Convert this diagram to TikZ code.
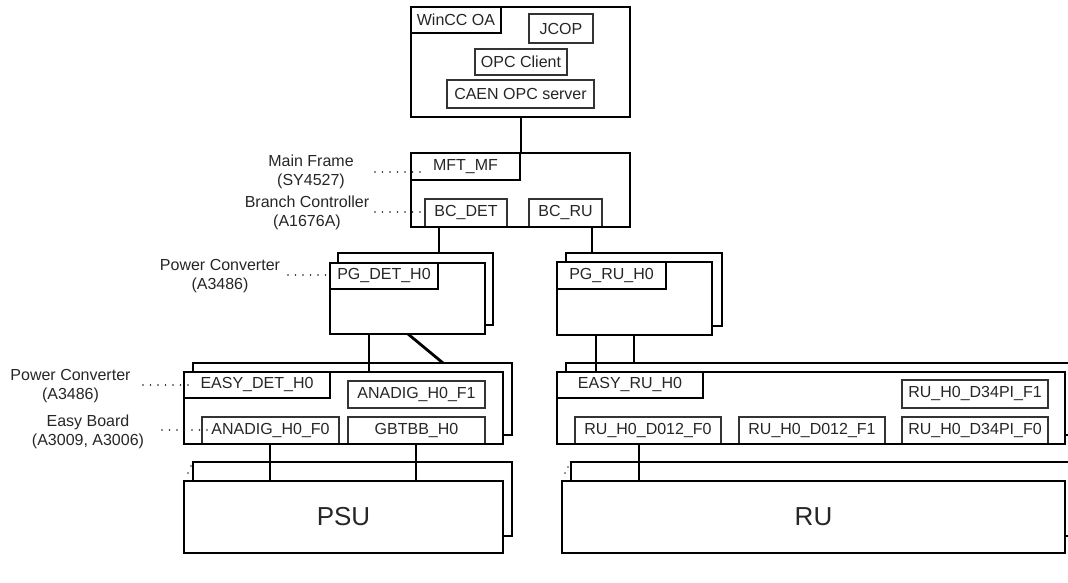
\documentclass[tikz,border=0pt]{standalone}
\usepackage{fontspec}
\setmainfont{Liberation Sans}
\newcommand\myfs{\fontsize{16}{19}\selectfont}
\newcommand\mybig{\fontsize{26}{30}\selectfont}
\tikzset{
  thk/.style={draw=black, line width=2.8pt, inner sep=0pt, outer sep=0pt, fill=white, font=\myfs, text=black!85, anchor=north west},
  thn/.style={draw=black!80, line width=1.7pt, inner sep=0pt, outer sep=0pt, font=\myfs, text=black!85, anchor=north west},
  lbl/.style={font=\myfs, text=black!85, align=center, inner sep=0pt},
  dotl/.style={line width=1.8pt, dash pattern=on 0pt off 7.5pt, line cap=round, black!90},
  conn/.style={line width=2.8pt, black},
  edge/.style={line width=2.8pt, black, line cap=rect},
}
\begin{document}
\begin{tikzpicture}[x=1pt,y=-1pt]
\useasboundingbox (0,0) rectangle (1068,583);

% WinCC
\node[thk, minimum width=219pt, minimum height=110pt] (wincc) at (411,7) {};
\node[thk, minimum width=90pt, minimum height=26pt] (winccoa) at (411,7) {WinCC OA};
\node[thn, minimum width=64pt, minimum height=29pt] (jcop) at (529,14) {JCOP};
\node[thn, minimum width=92pt, minimum height=26pt] (opcc) at (475,49) {OPC Client};
\node[thn, minimum width=147pt, minimum height=28pt] (caen) at (447,80) {CAEN OPC server};

% Main frame
\node[thk, minimum width=219pt, minimum height=74pt] (mf) at (411,153) {};
\node[thk, minimum width=109pt, minimum height=27pt] (mfl) at (411,153) {MFT\_MF};
\node[thn, minimum width=82pt, minimum height=28pt] (bcdet) at (425,199) {BC\_DET};
\node[thn, minimum width=73pt, minimum height=28pt] (bcru) at (529,199) {BC\_RU};
\draw[edge] (mf.south west) -- (mf.south east);

% PG DET
\node[thk, minimum width=155pt, minimum height=72pt] (pgdetb) at (338,253) {};
\node[thk, minimum width=155pt, minimum height=71pt] (pgdet) at (330,263) {};
\node[thk, minimum width=108pt, minimum height=26pt] (pgdetl) at (330,263) {PG\_DET\_H0};

% PG RU
\node[thk, minimum width=156pt, minimum height=73pt] (pgrub) at (566,253) {};
\node[thk, minimum width=155pt, minimum height=73pt] (pgru) at (557,262) {};
\node[thk, minimum width=109pt, minimum height=27pt] (pgrul) at (557,262) {PG\_RU\_H0};

% EASY DET
\node[thk, minimum width=319pt, minimum height=72pt] (easydetb) at (193,363) {};
\node[thk, minimum width=319pt, minimum height=72pt] (easydet) at (184,372) {};
\node[thk, minimum width=146pt, minimum height=26pt] (easydetl) at (184,372) {EASY\_DET\_H0};
\node[thn, minimum width=137pt, minimum height=27pt] (anaf1) at (348,381) {ANADIG\_H0\_F1};
\node[thn, minimum width=137pt, minimum height=27pt] (anaf0) at (202,417) {ANADIG\_H0\_F0};
\node[thn, minimum width=137pt, minimum height=27pt] (gbtbb) at (348,417) {GBTBB\_H0};
\draw[edge] (easydet.south west) -- (easydet.south east);

% EASY RU
\node[thk, minimum width=520pt, minimum height=72pt] (easyrub) at (566,363) {};
\node[thk, minimum width=508pt, minimum height=72pt] (easyru) at (557,372) {};
\node[thk, minimum width=146pt, minimum height=26pt] (easyrul) at (557,372) {EASY\_RU\_H0};
\node[thn, minimum width=146pt, minimum height=28pt] (d34f1) at (902,380) {RU\_H0\_D34PI\_F1};
\node[thn, minimum width=146pt, minimum height=27pt] (d012f0) at (575,417) {RU\_H0\_D012\_F0};
\node[thn, minimum width=146pt, minimum height=27pt] (d012f1) at (739,417) {RU\_H0\_D012\_F1};
\node[thn, minimum width=146pt, minimum height=27pt] (d34f0) at (902,417) {RU\_H0\_D34PI\_F0};
\draw[edge] (easyru.south west) -- (easyru.south east);

% PSU
\node[thk, minimum width=319pt, minimum height=74pt] (psub) at (193,462) {};
\node[thk, minimum width=319pt, minimum height=72pt, font=\mybig] (psu) at (184,481) {PSU};

% RU
\node[thk, minimum width=515pt, minimum height=74pt] (rub) at (571,462) {};
\node[thk, minimum width=503pt, minimum height=72pt, font=\mybig] (ru) at (562,481) {RU};

% connectors
\draw[conn] (521,0 |- wincc.south) -- (521,0 |- mf.north);
\draw[conn] (439,0 |- bcdet.south) -- (439,0 |- pgdetb.north);
\draw[conn] (592,0 |- bcru.south) -- (592,0 |- pgrub.north);
\draw[conn] (369,0 |- pgdet.south) -- (369,0 |- easydet.north);
\draw[conn] (408,0 |- pgdet.south) -- (443,0 |- easydetb.north);
\draw[conn] (596,0 |- pgru.south) -- (596,0 |- easyru.north);
\draw[conn] (634,0 |- pgru.south) -- (634,0 |- easyrub.north);
\draw[conn] (270,0 |- anaf0.south) -- (270,0 |- psu.north);
\draw[conn] (416,0 |- gbtbb.south) -- (416,0 |- psu.north);
\draw[conn] (639,0 |- d012f0.south) -- (639,0 |- ru.north);

% side labels
\node[lbl] (mainframe) at (311,172) {Main Frame\\(SY4527)};
\node[lbl] (branch) at (307,212.5) {Branch Controller\\(A1676A)};
\node[lbl] (pconva) at (220,276.5) {Power Converter\\(A3486)};
\node[lbl] (pconvb) at (70.5,386) {Power Converter\\(A3486)};
\node[lbl] (easyboard) at (88,431.5) {Easy Board\\(A3009, A3006)};

\coordinate (d1a) at (375,172); \coordinate (d1b) at (424,172);
\coordinate (d2a) at (375,212); \coordinate (d2b) at (424,212);
\coordinate (d3a) at (288,275); \coordinate (d3b) at (331,275);
\coordinate (d4a) at (143,385); \coordinate (d4b) at (192,385);
\coordinate (d5a) at (162,430); \coordinate (d5b) at (208,430);
\draw[dotl] (d1a) -- (d1b);
\draw[dotl] (d2a) -- (d2b);
\draw[dotl] (d3a) -- (d3b);
\draw[dotl] (d4a) -- (d4b);
\draw[dotl] (d5a) -- (d5b);

% tiny dot remnants
\fill[black!80] (191,466) circle (0.9);
\fill[black!80] (188,473) circle (0.9);
\fill[black!80] (568,467) circle (0.9);
\fill[black!80] (565,473) circle (0.9);
\end{tikzpicture}
\end{document}
